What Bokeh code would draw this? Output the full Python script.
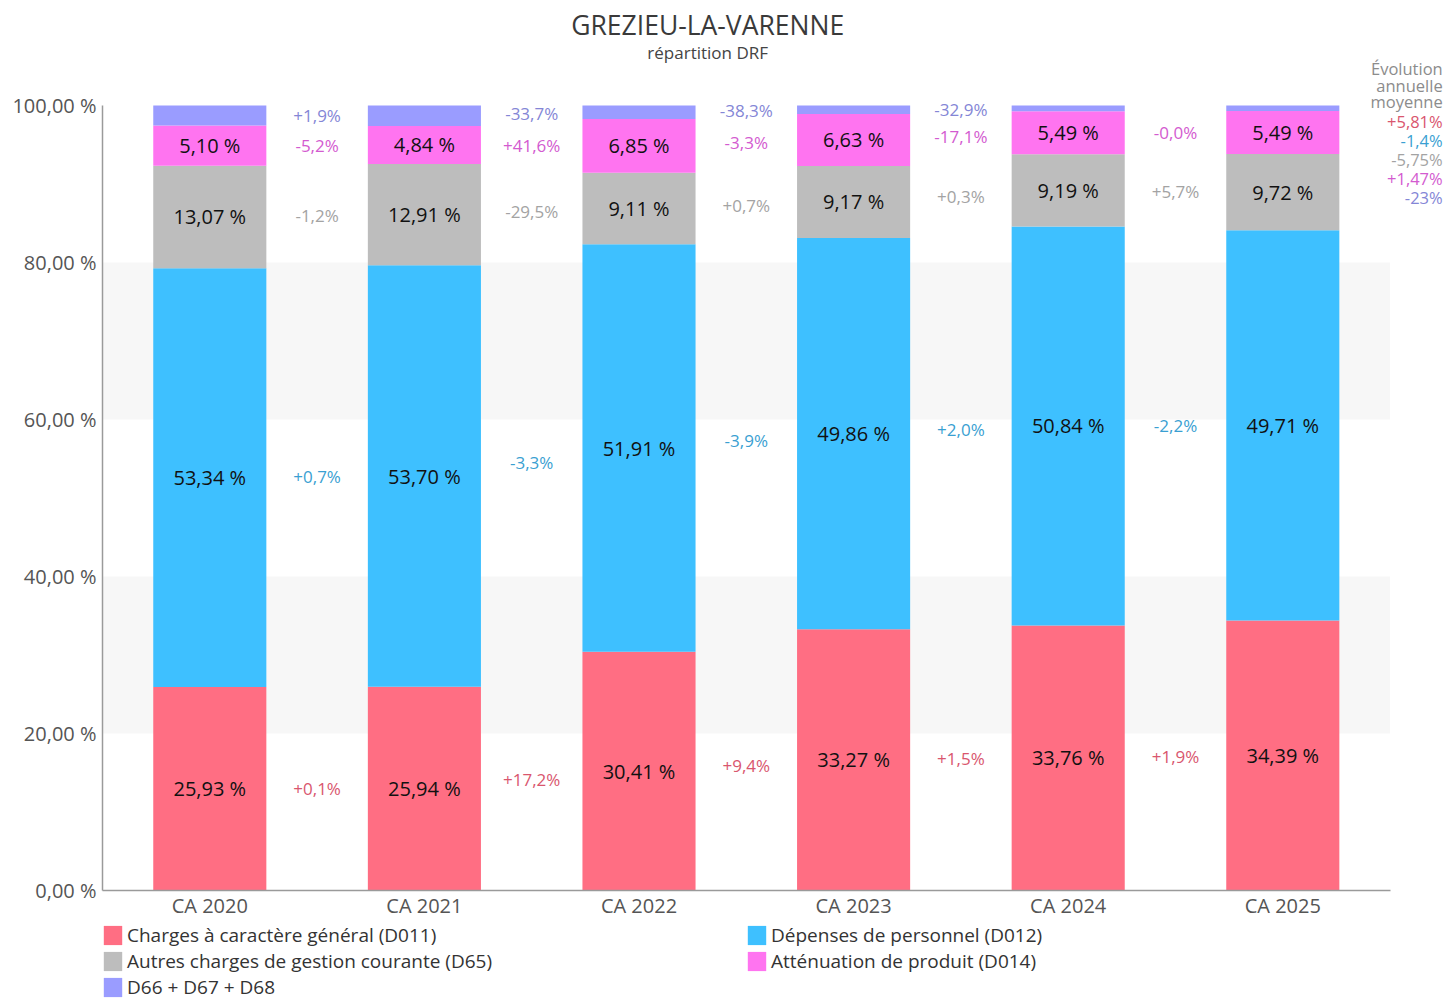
from bokeh.plotting import figure
from bokeh.models import ColumnDataSource, Range1d, FixedTicker, Label, Legend, LegendItem, BoxAnnotation
from bokeh.core.properties import value
from bokeh.embed import file_html
from bokeh.resources import INLINE

# ---------------- data ----------------
categories = ["CA 2020", "CA 2021", "CA 2022", "CA 2023", "CA 2024", "CA 2025"]
d011 = [25.93, 25.94, 30.41, 33.27, 33.76, 34.39]
d012 = [53.34, 53.70, 51.91, 49.86, 50.84, 49.71]
d65 = [13.07, 12.91, 9.11, 9.17, 9.19, 9.72]
d014 = [5.10, 4.84, 6.85, 6.63, 5.49, 5.49]
d66 = [2.56, 2.61, 1.72, 1.07, 0.72, 0.69]

series_names = ["Charges à caractère général (D011)", "Dépenses de personnel (D012)",
                "Autres charges de gestion courante (D65)", "Atténuation de produit (D014)",
                "D66 + D67 + D68"]

evo_d011 = ["+0,1%", "+17,2%", "+9,4%", "+1,5%", "+1,9%"]
evo_d012 = ["+0,7%", "-3,3%", "-3,9%", "+2,0%", "-2,2%"]
evo_d65 = ["-1,2%", "-29,5%", "+0,7%", "+0,3%", "+5,7%"]
evo_d014 = ["-5,2%", "+41,6%", "-3,3%", "-17,1%", "-0,0%"]
evo_d66 = ["+1,9%", "-33,7%", "-38,3%", "-32,9%", ""]

avg_title = ["Évolution", "annuelle", "moyenne"]
avg_values = ["+5,81%", "-1,4%", "-5,75%", "+1,47%", "-23%"]

title = "GREZIEU-LA-VARENNE"
subtitle = "répartition DRF"
y_ticks = [0, 20, 40, 60, 80, 100]

# ---------------- styles ----------------
bar_colors = ["#FF6E83", "#3EC0FF", "#BDBDBD", "#FF74F0", "#9A9CFF"]
evo_colors = ["#D9566E", "#3A9FD2", "#A3A3A3", "#D35BD0", "#8486D6"]
FONT = "Open Sans"
W, H = 1446, 1000
X0, Y0 = 102, 890          # pixel position of the data origin
PX_X, PX_Y = 214.6, 7.85   # pixels per category / per percent

series = [d011, d012, d65, d014, d66]
keys = ["d011", "d012", "d65", "d014", "d66"]
n = len(categories)
xs = [i + 0.5 for i in range(n)]

src = ColumnDataSource(dict(x=xs, **{k: v for k, v in zip(keys, series)}))

# the frame covers the whole canvas; axes are pinned at the data origin
p = figure(width=W, height=H,
           x_range=Range1d(-X0 / PX_X, (W - X0) / PX_X),
           y_range=Range1d(-(H - Y0) / PX_Y, Y0 / PX_Y),
           output_backend="svg", toolbar_location=None,
           min_border_left=0, min_border_right=0, min_border_top=0, min_border_bottom=0)
p.outline_line_color = None
p.background_fill_color = "white"

# alternating bands
for b0, b1 in [(20, 40), (60, 80)]:
    p.add_layout(BoxAnnotation(left=0, right=n, bottom=b0, top=b1, fill_color="#F7F7F7",
                               fill_alpha=1, line_color=None, level="underlay"))

renderers = p.vbar_stack(keys, x="x", width=0.527, color=bar_colors, line_color=None, source=src)

# segment middles
bottoms = [[0.0] * n]
for s in series[:-1]:
    bottoms.append([b + v for b, v in zip(bottoms[-1], s)])
mids = [[b + v / 2 for b, v in zip(bs, s)] for bs, s in zip(bottoms, series)]

def fmt(v):
    return f"{v:.2f}".replace(".", ",") + " %"

# labels inside bars (all but D66)
lx, ly, lt = [], [], []
for si in range(4):
    for i in range(n):
        lx.append(xs[i]); ly.append(mids[si][i]); lt.append(fmt(series[si][i]))
p.text(x=lx, y=ly, text=lt, text_align="center", text_baseline="middle",
       text_font=value(FONT), text_font_size="20px", text_color="#111111")

# evolution labels between bars
evos = [evo_d011, evo_d012, evo_d65, evo_d014, evo_d66]
ex, ey, et, ec = [], [], [], []
for si in range(5):
    for i in range(n - 1):
        if not evos[si][i]:
            continue
        ex.append(i + 1.0)
        ey.append((mids[si][i] + mids[si][i + 1]) / 2)
        et.append(evos[si][i])
        ec.append(evo_colors[si])
p.text(x=ex, y=ey, text=et, text_color=ec, text_align="center", text_baseline="middle",
       text_font=value(FONT), text_font_size="17px")

# axes
p.xaxis.ticker = FixedTicker(ticks=xs)
p.xaxis.major_label_overrides = {x: c for x, c in zip(xs, categories)}
p.xaxis.bounds = (0, n)
p.xaxis.fixed_location = 0
p.yaxis.ticker = FixedTicker(ticks=y_ticks)
p.yaxis.major_label_overrides = {t: f"{t:.2f}".replace(".", ",") + " %" for t in y_ticks}
p.yaxis.bounds = (0, 100)
p.yaxis.fixed_location = 0
for ax in (p.xaxis, p.yaxis):
    ax.axis_line_color = "#9A9A9A"
    ax.axis_line_width = 1.5
    ax.major_tick_line_color = None
    ax.minor_tick_line_color = None
    ax.major_tick_out = 0
    ax.major_tick_in = 0
    ax.major_label_text_font = FONT
    ax.major_label_text_font_size = "20px"
    ax.major_label_text_color = "#555555"
p.xaxis.major_label_standoff = 1
p.yaxis.major_label_standoff = 6

p.xgrid.grid_line_color = None
p.ygrid.grid_line_color = None

# title / subtitle
p.add_layout(Label(x=2.82, y=110.3, text=title, text_align="center",
                   text_baseline="middle", text_font=FONT, text_font_size="26.5px",
                   text_color="#3A3A3A"))
p.add_layout(Label(x=2.82, y=106.75, text=subtitle, text_align="center",
                   text_baseline="middle", text_font=FONT, text_font_size="17px",
                   text_color="#444444"))

# average evolution at right
avg_x = 6.245
for j, t in enumerate(avg_title):
    p.add_layout(Label(x=avg_x, y=104.71 - j * 2.1, text=t, text_align="right",
                       text_baseline="middle", text_font=FONT, text_font_size="16.5px",
                       text_color="#8C8C8C"))
for j, t in enumerate(avg_values):
    p.add_layout(Label(x=avg_x, y=97.9 - j * 2.39, text=t, text_align="right",
                       text_baseline="middle", text_font=FONT, text_font_size="16.5px",
                       text_color=evo_colors[j]))

# legend: one entry per item, laid out in two columns under the chart
def mk_legend(i, loc):
    return Legend(items=[LegendItem(label=series_names[i], renderers=[renderers[i]])],
                  location=loc, orientation="vertical", glyph_width=23, glyph_height=24,
                  label_text_font=FONT, label_text_font_size="19px", label_text_color="#333333",
                  label_standoff=3, spacing=0, padding=0, margin=0, label_height=24,
                  border_line_color=None, background_fill_alpha=0)

legend_slots = [(101, 52), (745, 52), (101, 26), (745, 26), (101, 0)]
for i, loc in enumerate(legend_slots):
    p.add_layout(mk_legend(i, loc))

open("out.html", "w").write(file_html(p, INLINE))
